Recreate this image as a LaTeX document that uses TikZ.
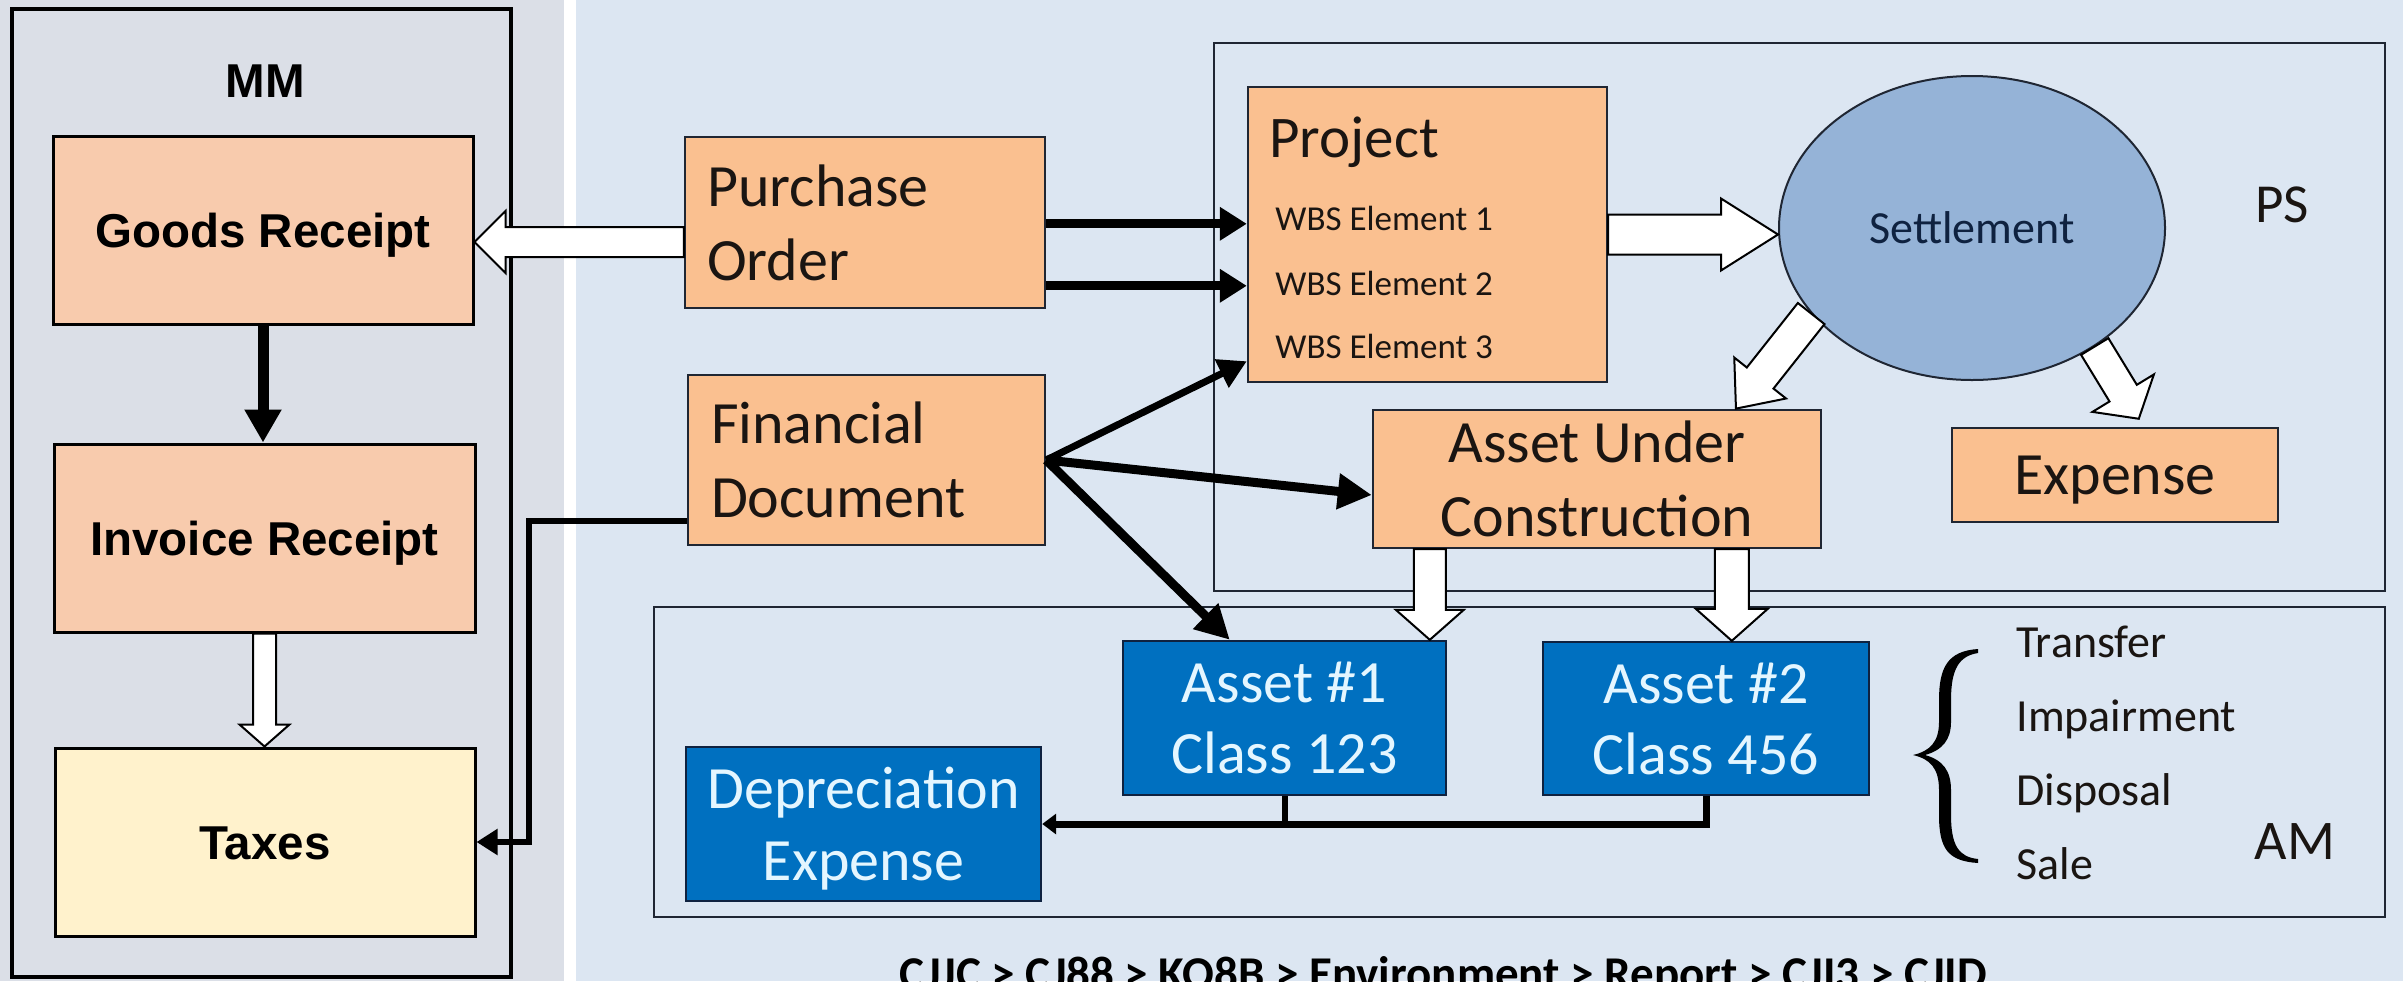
\documentclass[tikz,border=0pt]{standalone}
\usepackage{fontspec}
\setmainfont{Carlito}
\newfontfamily\arl{Liberation Sans}
\usetikzlibrary{arrows.meta,calc,shapes.geometric}
\definecolor{leftbg}{RGB}{219,223,231}
\definecolor{rightbg}{RGB}{220,230,242}
\definecolor{peachL}{HTML}{F8CBAD}
\definecolor{taxfill}{HTML}{FFF2CC}
\definecolor{orangeR}{HTML}{FAC090}
\definecolor{settfill}{HTML}{95B3D7}
\definecolor{assetblue}{HTML}{0070C0}
\definecolor{assettxt}{HTML}{E4F6FF}
\definecolor{txt}{HTML}{1A1512}
\definecolor{edgec}{HTML}{1F2633}
\definecolor{navy}{HTML}{0F2240}
\tikzset{
  lbox/.style={draw=black, line width=1.5pt, fill=peachL, minimum width=210pt, minimum height=94pt,
    inner sep=0pt, text height=17pt, text depth=0pt, font=\arl\bfseries\fontsize{23.75pt}{28pt}\selectfont},
  obox/.style={draw=edgec, line width=1.2pt, fill=orangeR, inner sep=0pt, text=txt,
    font=\fontsize{30pt}{37pt}\selectfont},
  abox/.style={draw=navy, line width=1.2pt, fill=assetblue, inner sep=0pt, text=assettxt,
    align=center, text depth=0pt, font=\fontsize{30pt}{36pt}\selectfont},
  psframe/.style={draw=edgec, line width=1.3pt, inner sep=0pt},
  plain/.style={inner sep=0pt, text=txt},
  blkA/.style={line width=4.5pt, -{Triangle[length=13.5pt,width=16pt]}},
  blkB/.style={line width=3.5pt, -{Triangle[length=14pt,width=15pt]}},
  blkC/.style={line width=4.5pt, -{Triangle[length=17pt,width=17pt]}},
}
\newcommand\hollowarrow[5]{%
  \path[draw=black, line width=1pt, fill=white]
    let \p1=#1, \p2=#2,
        \n1={veclen(\x2-\x1,\y2-\y1)},
        \n2={atan2(\y2-\y1,\x2-\x1)}
    in [shift={(\x1,\y1)}, rotate=\n2]
       (0pt,-#3) -- (\n1-#5,-#3) -- (\n1-#5,-#4) -- (\n1,0pt) -- (\n1-#5,#4) -- (\n1-#5,#3) -- (0pt,#3) -- cycle;}
\begin{document}
\begin{tikzpicture}[x=0.5pt,y=-0.5pt]
\useasboundingbox (0,0) rectangle (2403,981);
\clip (0,0) rectangle (2403,981);
% backgrounds
\fill[leftbg] (0,0) rectangle (564,981);
\fill[white] (564,0) rectangle (576,981);
\fill[rightbg] (576,0) rectangle (2403,981);

% ---------- MM panel ----------
\node[draw=black, line width=2pt, minimum width=249.5pt, minimum height=484pt, inner sep=0pt] (mm) at (261.5,493) {};
\node[inner sep=0pt, text height=17pt, text depth=0pt, font=\arl\bfseries\fontsize{23.75pt}{28pt}\selectfont] (mmlbl) at (265,80) {MM};
\node[lbox] (gr) at (263,230.5) {Goods Receipt};
\node[lbox, minimum width=210.5pt] (ir) at (264.5,538) {Invoice Receipt};
\node[lbox, fill=taxfill] (tax) at (265,842) {Taxes};

% ---------- frames ----------
\node[psframe, minimum width=585.5pt, minimum height=274pt] (ps) at (1799.5,317) {};
\node[psframe, minimum width=865.5pt, minimum height=155pt] (am) at (1519.5,762) {};

% ---------- PS side ----------
\node[obox, text width=158pt, inner xsep=11pt, minimum height=85.5pt, align=left] (po) at (865,222.5) {Purchase\\Order};
\node[obox, text width=155.5pt, inner xsep=11.5pt, minimum height=85pt, align=left] (fd) at (866.5,460) {Financial\\Document};
\node[obox, minimum width=179.5pt, minimum height=147.5pt] (proj) at (1427.5,234.5) {};
\node[plain, anchor=base west, font=\fontsize{29.5pt}{36pt}\selectfont] (projt) at (1269,157) {Project};
\node[plain, anchor=base west, font=\fontsize{17.5pt}{21pt}\selectfont] (wbs1) at (1275,230) {WBS Element 1};
\node[plain, anchor=base west, font=\fontsize{17.5pt}{21pt}\selectfont] (wbs2) at (1275,295) {WBS Element 2};
\node[plain, anchor=base west, font=\fontsize{17.5pt}{21pt}\selectfont] (wbs3) at (1275,358) {WBS Element 3};
\node[ellipse, draw=edgec, line width=1pt, fill=settfill, minimum width=193pt, minimum height=152pt, inner sep=0pt,
      text=navy, font=\fontsize{23pt}{28pt}\selectfont] (sett) at (1972,228) {Settlement};
\node[plain, font=\fontsize{27.5pt}{33pt}\selectfont] (pslbl) at (2282,205) {PS};
\node[obox, minimum width=224pt, minimum height=69pt, align=center] (auc) at (1597,479) {Asset Under\\Construction};
\node[obox, minimum width=163pt, minimum height=47pt, text depth=0pt] (exp) at (2115,475) {Expense};

% ---------- AM side ----------
\node[abox, minimum width=177.5pt, minimum height=77pt] (dep) at (863.5,824) {Depreciation\\Expense};
\node[abox, minimum width=161.5pt, minimum height=77pt, font=\fontsize{30pt}{35.5pt}\selectfont] (a1) at (1284.5,718) {Asset \#1\\Class 123};
\node[abox, minimum width=163pt, minimum height=76.5pt, font=\fontsize{30pt}{35.5pt}\selectfont] (a2) at (1706,718.5) {Asset \#2\\Class 456};
\node[plain, anchor=base west, font=\fontsize{23pt}{28pt}\selectfont] (tr) at (2016,657) {Transfer};
\node[plain, anchor=base west, font=\fontsize{23pt}{28pt}\selectfont] (im) at (2016,731) {Impairment};
\node[plain, anchor=base west, font=\fontsize{23pt}{28pt}\selectfont] (di) at (2016,805) {Disposal};
\node[plain, anchor=base west, font=\fontsize{23pt}{28pt}\selectfont] (sa) at (2016,879) {Sale};
\node[plain, font=\fontsize{28pt}{34pt}\selectfont] (amlbl) at (2295,842) {AM};
% curly brace
\fill[black] (1978,649) .. controls (1948,651) and (1939,667) .. (1939,700) -- (1939,722)
  .. controls (1939,742) and (1930,751) .. (1913,755)
  .. controls (1930,759) and (1939,768) .. (1939,790) -- (1939,815)
  .. controls (1939,849) and (1948,861) .. (1978,863)
  -- (1978,859) .. controls (1959,857) and (1951,846) .. (1951,815) -- (1951,790)
  .. controls (1951,771) and (1943,760) .. (1925,755)
  .. controls (1943,750) and (1951,739) .. (1951,722) -- (1951,700)
  .. controls (1951,669) and (1959,656) .. (1978,653) -- cycle;

% bottom path text
\node[inner sep=0pt, anchor=base, text=black, font=\bfseries\fontsize{23.5pt}{28pt}\selectfont] (tcodes) at (1443.5,989)
  {CJJC > CJ88 > KO8B > Environment > Report > CJI3 > CJID};

% ---------- connectors ----------
\draw[line width=5.5pt, -{Triangle[length=16.5pt,width=17.5pt]}] (gr.south) -- (gr.south |- ir.north);
\hollowarrow{(ir.south)}{(ir.south |- tax.north)}{5.75pt}{12.5pt}{11pt}
\hollowarrow{($(po.west)+(0,19.5)$)}{($(gr.east)+(0,11.5)$)}{7.5pt}{15.5pt}{15.5pt}

\coordinate (p1s) at ($(po.north east)+(0,88)$);
\coordinate (p2s) at ($(po.north east)+(0,150)$);
\draw[blkA] (p1s) -- (p1s -| proj.west);
\draw[blkA] (p2s) -- (p2s -| proj.west);
\draw[blkB] (fd.east) -- ($(proj.south west)+(0,-22)$);
\draw[blkC] (fd.east) -- ($(auc.west)+(0,16)$);
\draw[blkC] (fd.east) -- ($(a1.north west)+(108,0)$);

\coordinate (fdt) at ($(fd.south west)+(0,-25)$);
\coordinate (bendT) at ($(tax.east)+(52,0)$);
\draw[line width=3pt, -{Triangle[length=10.5pt,width=12.5pt]}] (fdt) -| (bendT) -- (tax.east);

\hollowarrow{(proj.east)}{(sett.west |- proj.east)}{10pt}{18pt}{28.5pt}
\hollowarrow{(sett.208)}{($(auc.north west)+(364,0)$)}{8.5pt}{16.5pt}{19.5pt}
\hollowarrow{(sett.316)}{($(exp.north west)+(188,-8)$)}{8pt}{18pt}{15pt}

\coordinate (h1) at ($(auc.south west)+(58,0)$);
\coordinate (h2) at ($(auc.south west)+(360,0)$);
\hollowarrow{(h1)}{(h1 |- a1.north)}{8pt}{17pt}{15pt}
\hollowarrow{(h2)}{(h2 |- a2.north)}{8.5pt}{18pt}{16pt}

\draw[line width=3.5pt, -{Triangle[length=7pt,width=10pt]}] (a2.south) |- (dep.east);
\draw[line width=3pt] (a1.south) -- (a1.south |- dep.east);
\end{tikzpicture}
\end{document}
